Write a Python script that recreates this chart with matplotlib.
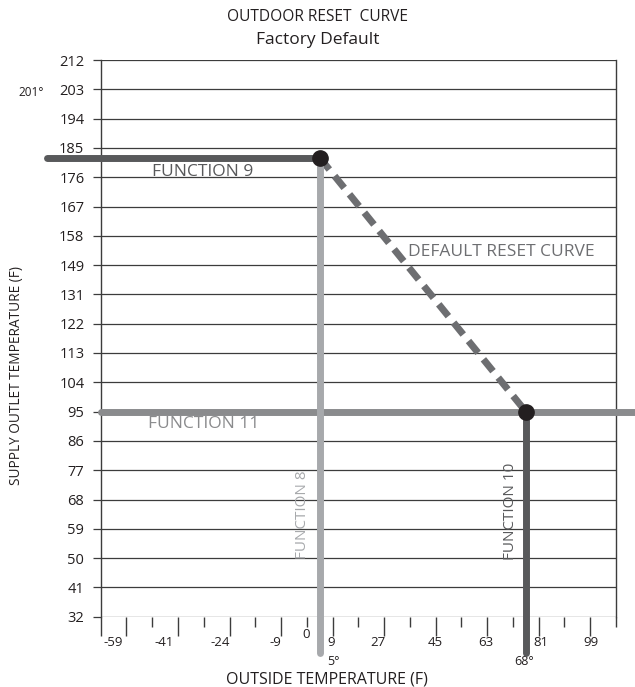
import numpy as np
import matplotlib
matplotlib.use("Agg")
import matplotlib.pyplot as plt

plt.rcParams['font.family'] = ['Open Sans', 'DejaVu Sans']

# ---------------- data ----------------
y_tick_labels = [32, 41, 50, 59, 68, 77, 86, 95, 104, 113, 122, 131,
                 149, 158, 167, 176, 185, 194, 203, 212]
x_tick_labels = ["-59", "-41", "-24", "-9", "0", "9", "27", "45", "63", "81", "99"]
outdoor_setpoints = ["5°", "68°"]          # FUNCTION 8, FUNCTION 10
supply_setpoints = [182, 95]               # FUNCTION 9, FUNCTION 11 (°F)
extra_label = "201°"

# ---------------- layout (schematic axis slots) ----------------
n_x_slots = 20
x_label_slots = [0.48, 2.46, 4.63, 6.77, 7.97, 8.94, 10.76, 12.97, 14.95, 17.1, 19.03]
setpoint_x_slots = [8.5, 16.5]
setpoint_label_dx = [14, -2]   # px offsets of the "5°"/"68°" notes

rows = np.arange(len(y_tick_labels))
def temp_to_row(t):
    return np.interp(t, y_tick_labels, rows)

W, H = 635, 687
fig = plt.figure(figsize=(W / 100, H / 100), dpi=100)
left, right, bottom, top = 100.7, 616, 616.7, 60
ax = fig.add_axes([left / W, 1 - bottom / H, (right - left) / W, (bottom - top) / H])
ax.set_xlim(0, n_x_slots)
ax.set_ylim(0, len(y_tick_labels) - 1)

grid_c = '#3c3c3c'
txt_c = '#231f20'
for r in rows:
    ax.axhline(r, color=grid_c, lw=0.9, zorder=1)
for s in ['top', 'bottom']:
    ax.spines[s].set_visible(False)
for s in ['left', 'right']:
    ax.spines[s].set_color(grid_c)
    ax.spines[s].set_linewidth(1.0)

ax.set_yticks(rows)
ax.set_yticklabels([str(v) for v in y_tick_labels], fontsize=10.5, color=txt_c)
ax.tick_params(axis='y', direction='out', length=5.8, width=0.9, color=grid_c, pad=6)

major = [0] + list(range(1, n_x_slots, 2))
minor = list(range(2, n_x_slots + 1, 2))
ax.set_xticks(major)
ax.set_xticks(minor, minor=True)
ax.set_xticklabels([])
ax.tick_params(axis='x', which='major', direction='out', length=14, width=1.0, color=grid_c)
ax.tick_params(axis='x', which='minor', direction='out', length=7, width=1.0, color=grid_c)

for lab, xs in zip(x_tick_labels, x_label_slots):
    off = -18 if lab == "0" else -26
    ax.annotate(lab, xy=(xs, 0), xycoords='data', xytext=(0, off * 0.72),
                textcoords='offset points', ha='center', va='center',
                fontsize=9.5, color=txt_c, annotation_clip=False)

# ---------------- function lines ----------------
f9_row = temp_to_row(supply_setpoints[0])
f11_row = temp_to_row(supply_setpoints[1])
x8, x10 = setpoint_x_slots
px_x = (right - left) / n_x_slots
px_y = (bottom - top) / (len(y_tick_labels) - 1)
x_far_left = -(left - 47.3) / px_x
x_far_right = (W - left) / px_x + 1
y_below = -(653 - bottom) / px_y

lw = 5.0
dark = '#58595b'
ax.plot([x_far_left, x8], [f9_row, f9_row], color=dark, lw=lw,
        solid_capstyle='round', clip_on=False, zorder=3)
ax.plot([0.0, x_far_right], [f11_row, f11_row], color='#8a8b8d', lw=lw,
        solid_capstyle='round', clip_on=False, zorder=3)
ax.plot([x8, x8], [f9_row, y_below], color='#a7a9ac', lw=lw,
        solid_capstyle='round', clip_on=False, zorder=4)
ax.plot([x10, x10], [f11_row, y_below], color=dark, lw=lw,
        solid_capstyle='round', clip_on=False, zorder=4)
ax.plot([x8, x10], [f9_row, f11_row], color='#6d6e71', lw=lw,
        dashes=(2.2, 1.2), dash_capstyle='butt', clip_on=False, zorder=3)
ax.plot([x8, x10], [f9_row, f11_row], 'o', color=txt_c, ms=11,
        clip_on=False, zorder=6)

# setpoint annotations below axis
for lab, xs, dx in zip(outdoor_setpoints, setpoint_x_slots, setpoint_label_dx):
    ax.annotate(lab, xy=(xs, 0), xycoords='data', xytext=(dx * 0.72, -45 * 0.72),
                textcoords='offset points', ha='center', va='center',
                fontsize=9, color=txt_c, annotation_clip=False)

# text labels
ax.text((152 - left) / px_x, (bottom - 172) / px_y, "FUNCTION 9", color=dark,
        fontsize=12.5, ha='left', va='center')
ax.text((148 - left) / px_x, (bottom - 424) / px_y, "FUNCTION 11", color='#8a8b8d',
        fontsize=12.5, ha='left', va='center')
ax.text((408 - left) / px_x, (bottom - 252) / px_y, "DEFAULT RESET CURVE", color='#6d6e71',
        fontsize=12.5, ha='left', va='center')
ax.text((302 - left) / px_x, (bottom - 515) / px_y, "FUNCTION 8", color='#a7a9ac',
        fontsize=11, ha='center', va='center', rotation=90)
ax.text((510 - left) / px_x, (bottom - 511) / px_y, "FUNCTION 10", color=dark,
        fontsize=11, ha='center', va='center', rotation=90)

fig.text(31 / W, 1 - 93 / H, extra_label, fontsize=8.5, ha='center', va='center', color=txt_c)

fig.text(0.5, 1 - 17 / H, "OUTDOOR RESET  CURVE", fontsize=11.2, ha='center', va='center', color=txt_c)
fig.text(0.5, 1 - 40 / H, "Factory Default", fontsize=12.5, ha='center', va='center', color=txt_c)
fig.text(17 / W, 1 - 375 / H, "SUPPLY OUTLET TEMPERATURE (F)", fontsize=9.8, rotation=90,
         ha='center', va='center', color=txt_c)
fig.text(327 / W, 1 - 680 / H, "OUTSIDE TEMPERATURE (F)", fontsize=11.5,
         ha='center', va='center', color=txt_c)

fig.savefig("out.png", dpi=100)
